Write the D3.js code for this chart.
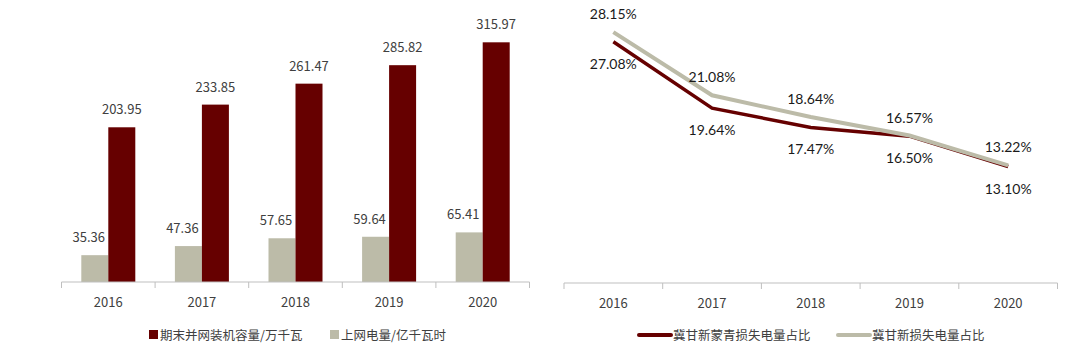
<!DOCTYPE html>
<html>
<head>
<meta charset="utf-8">
<script src="https://cdn.jsdelivr.net/npm/d3@7/dist/d3.min.js"></script>
<style>
  body { margin: 0; background: #fff; }
  svg { display: block; }
</style>
</head>
<body>
<div id="chart"></div>
<script>
// 数据
const years = ["2016", "2017", "2018", "2019", "2020"];
const capacity = [203.95, 233.85, 261.47, 285.82, 315.97];   // 期末并网装机容量/万千瓦
const generation = [35.36, 47.36, 57.65, 59.64, 65.41];      // 上网电量/亿千瓦时
const lossFive = [27.08, 19.64, 17.47, 16.50, 13.10];         // 冀甘新蒙青损失电量占比
const lossThree = [28.15, 21.08, 18.64, 16.57, 13.22];        // 冀甘新损失电量占比

const barLegend = ["期末并网装机容量/万千瓦", "上网电量/亿千瓦时"];
const lineLegend = ["冀甘新蒙青损失电量占比", "冀甘新损失电量占比"];

const maroon = "#660000";
const khaki = "#bcbba8";
const axisGrey = "#bfbfbf";
const cjk = "'Noto Sans CJK SC', 'Noto Sans', sans-serif";

const svg = d3.select("#chart").append("svg")
    .attr("width", 1080)
    .attr("height", 355);

// 坐标轴：类别边界处画刻度
function drawAxis(g, scale, yPos) {
    const [x0, x1] = scale.range();
    g.append("line")
        .attr("x1", x0).attr("x2", x1)
        .attr("y1", yPos).attr("y2", yPos)
        .attr("stroke", axisGrey);
    const bounds = scale.domain().map(d => scale(d)).concat([x1]);
    g.selectAll("line.tick")
        .data(bounds)
        .join("line")
        .attr("class", "tick")
        .attr("x1", d => d).attr("x2", d => d)
        .attr("y1", yPos).attr("y2", yPos + 6)
        .attr("stroke", axisGrey);
    g.selectAll("text.year")
        .data(scale.domain())
        .join("text")
        .attr("class", "year")
        .attr("x", d => scale(d) + scale.bandwidth() / 2)
        .attr("y", yPos + 25)
        .attr("text-anchor", "middle")
        .attr("font-family", cjk)
        .attr("font-size", 13)
        .attr("fill", "#404040")
        .text(d => d);
}

// 左图：柱状图
const x = d3.scaleBand().domain(years).range([61.5, 529.5]);
const y = d3.scaleLinear().domain([0, 350]).range([282, 16.5]);
const barW = 27;
const left = svg.append("g");
const center = d => x(d) + x.bandwidth() / 2;

left.selectAll("rect.gen")
    .data(generation)
    .join("rect")
    .attr("x", (d, i) => center(years[i]) - barW)
    .attr("y", d => y(d))
    .attr("width", barW)
    .attr("height", d => y(0) - y(d))
    .attr("fill", khaki);

left.selectAll("rect.cap")
    .data(capacity)
    .join("rect")
    .attr("x", (d, i) => center(years[i]))
    .attr("y", d => y(d))
    .attr("width", barW)
    .attr("height", d => y(0) - y(d))
    .attr("fill", maroon);

left.selectAll("text.gen")
    .data(generation)
    .join("text")
    .attr("x", (d, i) => center(years[i]) - barW / 2 - 6)
    .attr("y", d => y(d) - 13)
    .attr("text-anchor", "middle")
    .attr("font-family", cjk)
    .attr("font-size", 13)
    .attr("fill", "#404040")
    .text(d => d.toFixed(2));

left.selectAll("text.cap")
    .data(capacity)
    .join("text")
    .attr("x", (d, i) => center(years[i]) + barW / 2)
    .attr("y", d => y(d) - 13)
    .attr("text-anchor", "middle")
    .attr("font-family", cjk)
    .attr("font-size", 13)
    .attr("fill", "#404040")
    .text(d => d.toFixed(2));

drawAxis(left.append("g"), x, 282);

// 左图图例
const legL = left.append("g");
[[149, maroon, barLegend[0]], [330, khaki, barLegend[1]]].forEach(([lx, c, t]) => {
    legL.append("rect").attr("x", lx).attr("y", 330).attr("width", 9).attr("height", 9).attr("fill", c);
    legL.append("text")
        .attr("x", lx + 11).attr("y", 339.5)
        .attr("font-family", cjk).attr("font-size", 12.5)
        .attr("fill", "#404040")
        .text(t);
});

// 右图：折线图
const x2 = d3.scaleBand().domain(years).range([564, 1057.5]);
const y2 = d3.scaleLinear().domain([0, 30]).range([283.5, 15.6]);
const right = svg.append("g");
const px = d => x2(d) + x2.bandwidth() / 2;

const line = d3.line()
    .x((d, i) => px(years[i]))
    .y(d => y2(d));

right.append("path")
    .datum(lossFive)
    .attr("d", line)
    .attr("fill", "none")
    .attr("stroke", maroon)
    .attr("stroke-width", 3.5);

right.append("path")
    .datum(lossThree)
    .attr("d", line)
    .attr("fill", "none")
    .attr("stroke", khaki)
    .attr("stroke-width", 4);

const pctFont = "Lato, 'Open Sans', sans-serif";

right.selectAll("text.three")
    .data(lossThree)
    .join("text")
    .attr("x", (d, i) => px(years[i]))
    .attr("y", d => y2(d) - 13)
    .attr("text-anchor", "middle")
    .attr("font-family", pctFont)
    .attr("font-size", 14)
    .attr("fill", "#1a1a1a")
    .text(d => d.toFixed(2) + "%");

right.selectAll("text.five")
    .data(lossFive)
    .join("text")
    .attr("x", (d, i) => px(years[i]))
    .attr("y", d => y2(d) + 27)
    .attr("text-anchor", "middle")
    .attr("font-family", pctFont)
    .attr("font-size", 14)
    .attr("fill", "#1a1a1a")
    .text(d => d.toFixed(2) + "%");

drawAxis(right.append("g"), x2, 283);

// 右图图例
const legR = right.append("g");
[[639, maroon, lineLegend[0]], [838, khaki, lineLegend[1]]].forEach(([lx, c, t]) => {
    legR.append("line")
        .attr("x1", lx).attr("x2", lx + 32)
        .attr("y1", 335).attr("y2", 335)
        .attr("stroke", c).attr("stroke-width", 4)
        .attr("stroke-linecap", "round");
    legR.append("text")
        .attr("x", lx + 34).attr("y", 339.5)
        .attr("font-family", cjk).attr("font-size", 12.5)
        .attr("fill", "#404040")
        .text(t);
});
</script>
</body>
</html>
